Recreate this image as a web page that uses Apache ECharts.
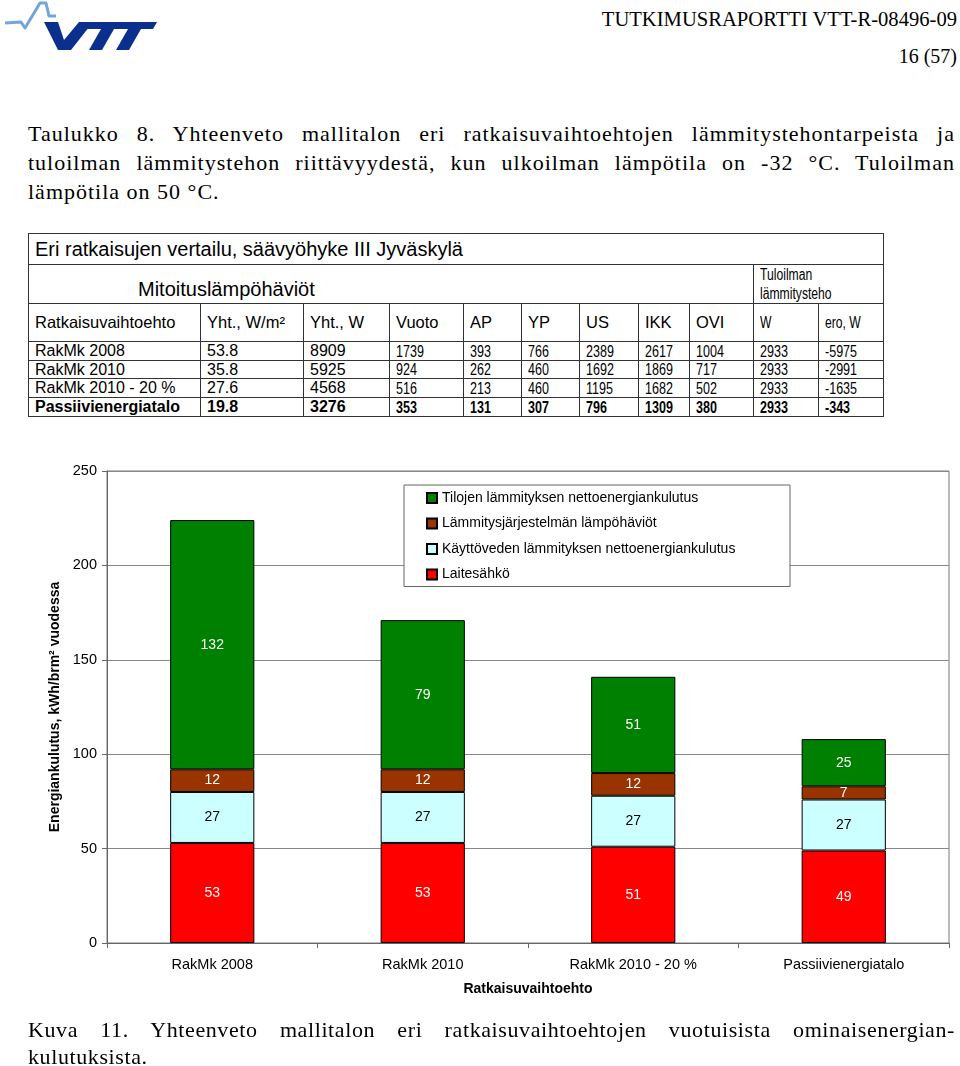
<!DOCTYPE html>
<html>
<head>
<meta charset="utf-8">
<script src="https://cdn.jsdelivr.net/npm/echarts@6/dist/echarts.min.js"></script>
<style>
  html, body { margin:0; padding:0; background:#fff; }
  #page { position:relative; width:960px; height:1066px; overflow:hidden; color:#000; }
  .serif { font-family:'Liberation Serif','Times New Roman',serif; }
  .hdr { position:absolute; right:3px; font-size:20px; white-space:nowrap; }
  .para { position:absolute; left:28px; width:927px; font-size:22px; letter-spacing:1px; line-height:29px; }
  .jl { text-align:justify; text-align-last:justify; white-space:nowrap; }
  .cap { position:absolute; left:28px; width:927px; font-size:22px; letter-spacing:0.6px; line-height:27px; }
  #tbl { position:absolute; left:28px; top:233px; border-collapse:collapse; table-layout:fixed;
         font-family:'Liberation Sans',Arial,sans-serif; border:1.5px solid #333; }
  #tbl td { border:1px solid #333; padding:0 0 0 6px; white-space:nowrap; overflow:hidden; vertical-align:middle; line-height:1; }
  .nar { display:inline-block; transform:scaleX(0.76); transform-origin:left center; }
  #chart { position:absolute; left:0; top:440px; width:960px; height:580px; }
</style>
</head>
<body>
<div id="page">
  <svg style="position:absolute;left:0;top:0" width="170" height="56" viewBox="0 0 170 56">
    <polyline points="5,23 21,22 25,28 40,3 46,3 49,16 56,16" fill="none" stroke="#6fa6dc" stroke-width="3" stroke-linejoin="round"/>
    <polygon points="44,22 58,22 64,40 79,22 93,22 71,50 58,50" fill="#0b2f8c"/>
    <polygon points="89,22 157,22 153,29 84,29" fill="#0b2f8c"/>
    <polygon points="101,29 114,29 102,50 89,50" fill="#0b2f8c"/>
    <polygon points="128,29 141,29 129,50 116,50" fill="#0b2f8c"/>
  </svg>
  <div class="hdr serif" style="top:8px;font-size:20.6px;">TUTKIMUSRAPORTTI VTT-R-08496-09</div>
  <div class="hdr serif" style="top:45px;">16 (57)</div>

  <div class="para serif" style="top:119px;">
    <div class="jl">Taulukko 8. Yhteenveto mallitalon eri ratkaisuvaihtoehtojen lämmitystehontarpeista ja</div>
    <div class="jl">tuloilman lämmitystehon riittävyydestä, kun ulkoilman lämpötila on -32 °C. Tuloilman</div>
    <div>lämpötila on 50 °C.</div>
  </div>

  <table id="tbl"></table>

  <div id="chart"></div>

  <div class="cap serif" style="top:1016px;">
    <div class="jl">Kuva 11. Yhteenveto mallitalon eri ratkaisuvaihtoehtojen vuotuisista ominaisenergian-</div>
    <div>kulutuksista.</div>
  </div>
</div>

<script>
// ---------- Table data ----------
const tableTitle = 'Eri ratkaisujen vertailu, säävyöhyke III Jyväskylä';
const tableGroup = 'Mitoituslämpöhäviöt';
const tableGroup2 = ['Tuloilman', 'lämmitysteho'];
const tableHeaders = ['Ratkaisuvaihtoehto', 'Yht., W/m²', 'Yht., W', 'Vuoto', 'AP', 'YP', 'US', 'IKK', 'OVI', 'W', 'ero, W'];
const rowNames = ['RakMk 2008', 'RakMk 2010', 'RakMk 2010 - 20 %', 'Passiivienergiatalo'];
const colYhtWm2 = ['53.8', '35.8', '27.6', '19.8'];
const colYhtW = [8909, 5925, 4568, 3276];
const colVuoto = [1739, 924, 516, 353];
const colAP = [393, 262, 213, 131];
const colYP = [766, 460, 460, 307];
const colUS = [2389, 1692, 1195, 796];
const colIKK = [2617, 1869, 1682, 1309];
const colOVI = [1004, 717, 502, 380];
const colTuloW = [2933, 2933, 2933, 2933];
const colEro = [-5975, -2991, -1635, -343];

// ---------- Chart data ----------
const categories = ['RakMk 2008', 'RakMk 2010', 'RakMk 2010 - 20 %', 'Passiivienergiatalo'];
const laitesahko = [53, 53, 51, 49];
const kayttovesi = [27, 27, 27, 27];
const lampohaviot = [12, 12, 12, 7];
const tilat = [132, 79, 51, 25];
const yTicks = { min: 0, max: 250, interval: 50 };
const seriesNames = ['Tilojen lämmityksen nettoenergiankulutus', 'Lämmitysjärjestelmän lämpöhäviöt',
                     'Käyttöveden lämmityksen nettoenergiankulutus', 'Laitesähkö'];

// ---------- Build table ----------
(function () {
  const t = document.getElementById('tbl');
  const widths = [172, 103, 86, 74, 58, 58, 59, 51, 64, 65, 65];
  let html = '<colgroup>' + widths.map(w => '<col style="width:' + w + 'px">').join('') + '</colgroup>';
  html += '<tr style="height:31px"><td colspan="11" style="font-size:20px;padding-left:6px">' + tableTitle + '</td></tr>';
  html += '<tr style="height:39px"><td colspan="9" style="font-size:20px;padding-left:109px;vertical-align:bottom;padding-bottom:4px">' + tableGroup + '</td>' +
          '<td colspan="2" style="font-size:16px;line-height:19px"><span class="nar">' + tableGroup2[0] + '<br>' + tableGroup2[1] + '</span></td></tr>';
  html += '<tr style="height:38px">' + tableHeaders.map((h, i) =>
      i >= 9 ? '<td style="font-size:16px"><span class="nar">' + h + '</span></td>'
             : '<td style="font-size:16.5px">' + h + '</td>').join('') + '</tr>';
  const hs = [19, 18, 19, 19];
  for (let r = 0; r < rowNames.length; r++) {
    const bold = r === rowNames.length - 1 ? 'font-weight:bold;' : '';
    const normal = [rowNames[r], colYhtWm2[r], colYhtW[r]];
    const narrow = [colVuoto[r], colAP[r], colYP[r], colUS[r], colIKK[r], colOVI[r], colTuloW[r], colEro[r]];
    html += '<tr style="height:' + hs[r] + 'px;' + bold + '">' +
      normal.map(v => '<td style="font-size:16px">' + v + '</td>').join('') +
      narrow.map(v => '<td style="font-size:16.5px"><span class="nar">' + v + '</span></td>').join('') + '</tr>';
  }
  t.innerHTML = html;
})();

// ---------- Chart ----------
const chart = echarts.init(document.getElementById('chart'), null, { renderer: 'canvas' });
const FONT = "'Liberation Sans', Arial, sans-serif";
function mk(name, data, color, labelColor) {
  return {
    name: name, type: 'bar', stack: 'total', data: data, barWidth: '40%',
    itemStyle: { color: color, borderColor: '#000', borderWidth: 1 },
    label: { show: true, position: 'inside', color: labelColor, fontSize: 14, fontFamily: FONT },
    emphasis: { disabled: true }
  };
}
chart.setOption({
  animation: false,
  textStyle: { fontFamily: FONT },
  grid: { left: 107, right: 11, top: 31, bottom: 77, show: true, borderColor: '#777', borderWidth: 1 },
  legend: {
    data: seriesNames,
    orient: 'vertical', left: 404, top: 45,
    icon: 'rect', itemWidth: 10, itemHeight: 10, itemGap: 10.5,
    padding: [5.5, 43, 4.5, 22],
    borderColor: '#666', borderWidth: 1, backgroundColor: '#fff',
    selectedMode: false,
    textStyle: { fontSize: 14, color: '#000', lineHeight: 15, width: 305, fontFamily: FONT }
  },
  xAxis: {
    type: 'category', data: categories,
    name: 'Ratkaisuvaihtoehto', nameLocation: 'middle', nameGap: 39,
    nameTextStyle: { fontWeight: 'bold', fontSize: 14, color: '#000' },
    axisLine: { lineStyle: { color: '#666' } },
    axisTick: { show: true, length: 5, lineStyle: { color: '#666' } },
    axisLabel: { fontSize: 14.5, color: '#000', margin: 14 }
  },
  yAxis: {
    type: 'value', min: yTicks.min, max: yTicks.max, interval: yTicks.interval,
    name: 'Energiankulutus, kWh/brm² vuodessa', nameLocation: 'middle', nameGap: 42,
    nameTextStyle: { fontWeight: 'bold', fontSize: 14, color: '#000' },
    axisLine: { show: true, lineStyle: { color: '#666' } },
    axisTick: { show: true, length: 5, lineStyle: { color: '#666' } },
    axisLabel: { fontSize: 14.5, color: '#000', margin: 10 },
    splitLine: { lineStyle: { color: '#888' } }
  },
  series: [
    mk(seriesNames[3], laitesahko, '#FF0000', '#fff'),
    mk(seriesNames[2], kayttovesi, '#CCFFFF', '#000'),
    mk(seriesNames[1], lampohaviot, '#993300', '#fff'),
    mk(seriesNames[0], tilat, '#008000', '#fff')
  ]
});
</script>
</body>
</html>
